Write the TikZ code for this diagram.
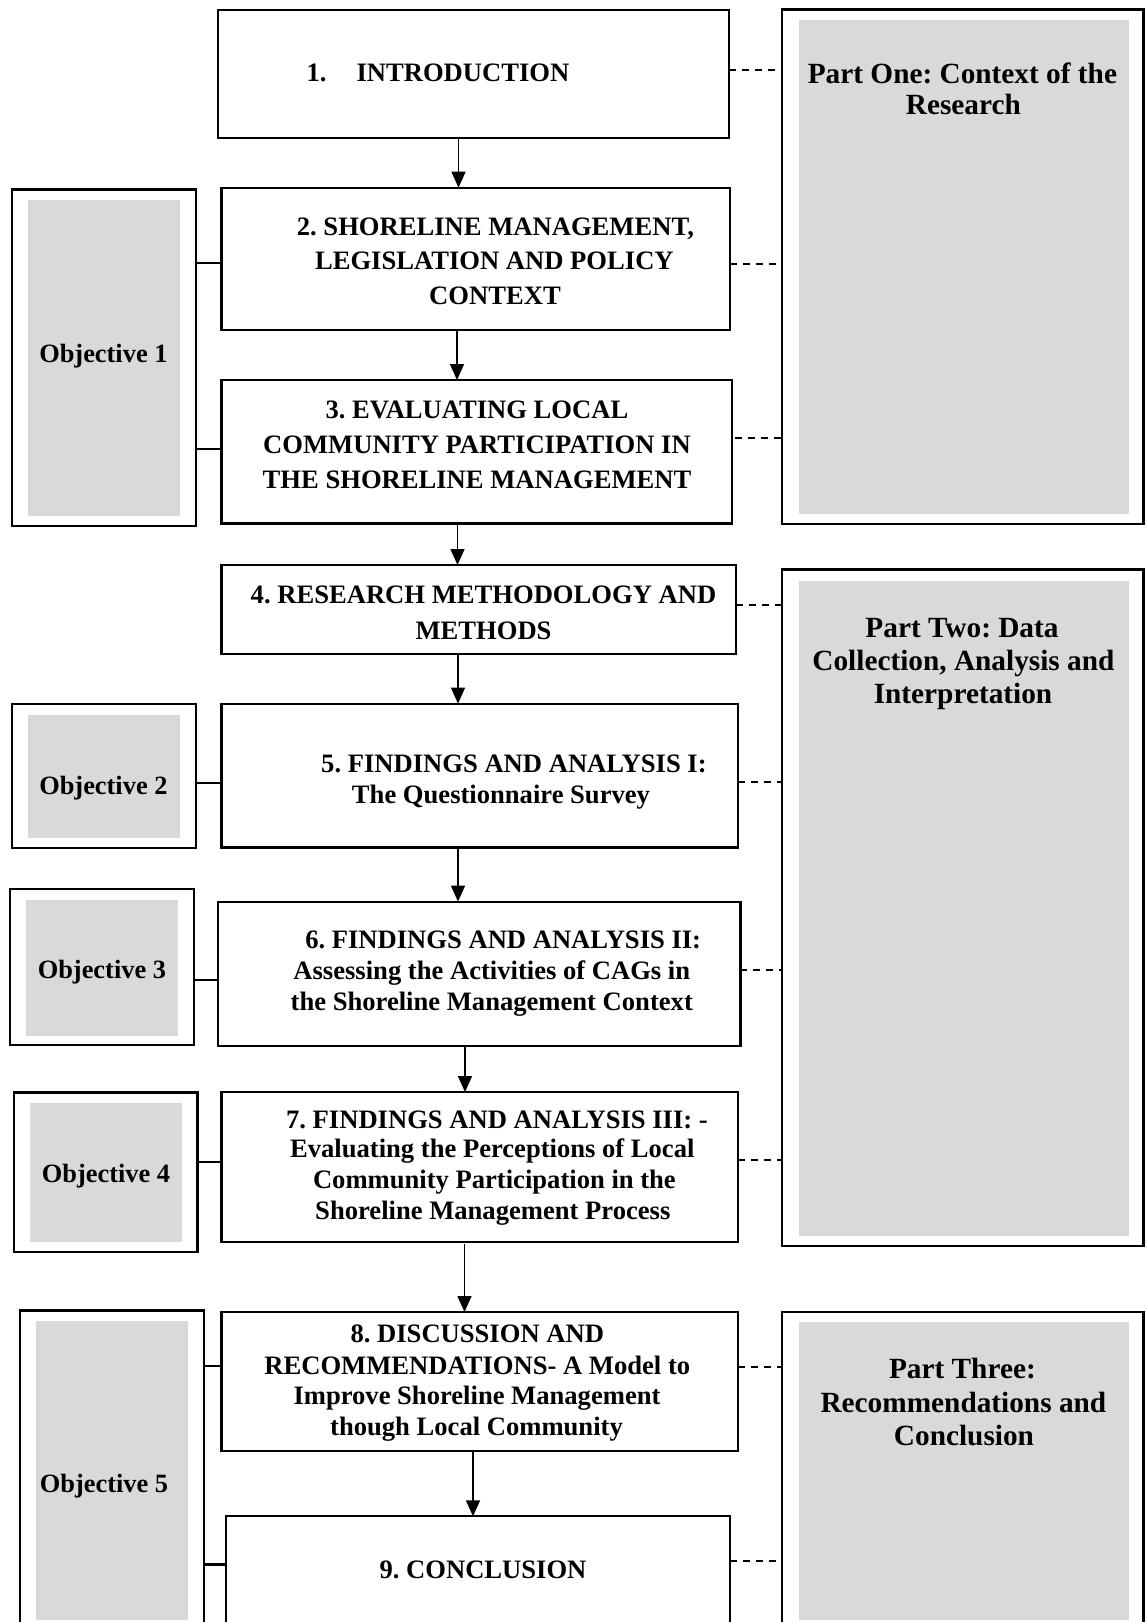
\documentclass[tikz,border=0pt]{standalone}
\usepackage{fontspec}
\setmainfont{Liberation Serif}
\usetikzlibrary{arrows.meta,fit}
\definecolor{panelgray}{HTML}{D9D9D9}
\frenchspacing
\newcommand\boxfont{\fontsize{26.6}{30}\selectfont\bfseries}
\newcommand\partfont{\fontsize{29.3}{33}\selectfont\bfseries}
\newcommand\objfont{\fontsize{26.4}{30}\selectfont\bfseries}
\begin{document}
\begin{tikzpicture}[x=1pt,y=-1pt,
  flow/.style={draw, line width=2.2pt, fill=white, inner sep=0pt, outer sep=0pt},
  frame/.style={draw, line width=2.2pt, inner sep=0pt, outer sep=0pt},
  shade/.style={fill=panelgray, draw=none, inner sep=0pt, outer sep=0pt},
  arr/.style={-{Triangle[length=16pt,width=14pt]}, line width=1.5pt},
  link/.style={line width=2.4pt},
  dotlink/.style={line width=2pt, dash pattern=on 7pt off 6pt},
  boxtext/.style={anchor=base, font=\boxfont, inner sep=0pt},
  parttext/.style={anchor=base, font=\partfont, inner sep=0pt},
  objtext/.style={anchor=base, font=\objfont, inner sep=0pt}]
\useasboundingbox (0,0) rectangle (1146,1622);

% chapter boxes
\node[flow, fit={(217.8,9.6) (728.7,137.8)}] (b1) {};
\node[flow, fit={(221.5,187.7) (730,329.6)}] (b2) {};
\node[flow, fit={(221.5,380) (732,523.5)}] (b3) {};
\node[flow, fit={(221.5,565) (736,653.7)}] (b4) {};
\node[flow, fit={(221.5,703.6) (738,847.5)}] (b5) {};
\node[flow, fit={(217.8,901.6) (740.4,1045.6)}] (b6) {};
\node[flow, fit={(221.5,1092) (738,1241.8)}] (b7) {};
\node[flow, fit={(221.5,1312) (738,1450.6)}] (b8) {};
\node[flow, fit={(226,1516.3) (730,1645)}] (b9) {};

% objective panels
\node[frame, fit={(11.7,189.4) (196,526)}] (o1) {};
\node[shade, fit={(27.8,200) (180,515.6)}] (o1in) {};
\node[frame, fit={(11.7,703.6) (196,848)}] (o2) {};
\node[shade, fit={(27.8,715) (180,837.5)}] (o2in) {};
\node[frame, fit={(9.8,889.3) (194,1045)}] (o3) {};
\node[shade, fit={(26.1,900) (178.1,1035.6)}] (o3in) {};
\node[frame, fit={(14.2,1092.5) (197.4,1252.3)}] (o4) {};
\node[shade, fit={(30,1103) (182,1241.5)}] (o4in) {};
\node[frame, fit={(20,1310.5) (204,1645)}] (o5) {};
\node[shade, fit={(35.8,1321) (187.8,1620.3)}] (o5in) {};

% part panels
\node[frame, fit={(782,9.5) (1143.5,524.3)}] (p1) {};
\node[shade, fit={(798.8,19.8) (1128.8,514)}] (p1in) {};
\node[frame, fit={(782,569.5) (1143.5,1245.6)}] (p2) {};
\node[shade, fit={(798.8,580.8) (1128.8,1236)}] (p2in) {};
\node[frame, fit={(782,1311.7) (1143.5,1645)}] (p3) {};
\node[shade, fit={(798.8,1322) (1128.8,1619.8)}] (p3in) {};

% chapter texts
\node[boxtext] (t1) at (438,81.2) {1.\hspace{30pt}INTRODUCTION};
\node[boxtext] (t2a) at (495.4,235.8) {2. SHORELINE MANAGEMENT,};
\node[boxtext] (t2b) at (494.4,269.8) {LEGISLATION AND POLICY};
\node[boxtext] (t2c) at (495,304.3) {CONTEXT};
\node[boxtext] (t3a) at (477,418.6) {3. EVALUATING LOCAL};
\node[boxtext] (t3b) at (477,453.1) {COMMUNITY PARTICIPATION IN};
\node[boxtext] (t3c) at (477,488.2) {THE SHORELINE MANAGEMENT};
\node[boxtext] (t4a) at (483.5,603.8) {4. RESEARCH METHODOLOGY AND};
\node[boxtext] (t4b) at (483.5,639.8) {METHODS};
\node[boxtext] (t5a) at (514,772.7) {5. FINDINGS AND ANALYSIS I:};
\node[boxtext] (t5b) at (501,803.7) {The Questionnaire Survey};
\node[boxtext] (t6a) at (503.2,948.3) {6. FINDINGS AND ANALYSIS II:};
\node[boxtext] (t6b) at (491.8,979.3) {Assessing the Activities of CAGs in};
\node[boxtext] (t6c) at (491.8,1010.3) {the Shoreline Management Context};
\node[boxtext] (t7a) at (497,1128.6) {7. FINDINGS AND ANALYSIS III: -};
\node[boxtext] (t7b) at (492.3,1157.8) {Evaluating the Perceptions of Local};
\node[boxtext] (t7c) at (494.4,1188.8) {Community Participation in the};
\node[boxtext] (t7d) at (492.8,1219.5) {Shoreline Management Process};
\node[boxtext] (t8a) at (477.3,1342.8) {8. DISCUSSION AND};
\node[boxtext] (t8b) at (477.3,1374.8) {RECOMMENDATIONS- A Model to};
\node[boxtext] (t8c) at (477,1404.8) {Improve Shoreline Management};
\node[boxtext] (t8d) at (476.5,1435.8) {though Local Community};
\node[boxtext] (t9) at (483,1578.8) {9. CONCLUSION};

% part texts
\node[parttext] (q1a) at (962.4,83.7) {Part One: Context of the};
\node[parttext] (q1b) at (963.4,114.7) {Research};
\node[parttext] (q2a) at (962,637.5) {Part Two: Data};
\node[parttext] (q2b) at (963.4,670.2) {Collection, Analysis and};
\node[parttext] (q2c) at (963,703) {Interpretation};
\node[parttext] (q3a) at (962.4,1378.3) {Part Three:};
\node[parttext] (q3b) at (963.4,1412.7) {Recommendations and};
\node[parttext] (q3c) at (964,1445.7) {Conclusion};

% objective texts
\node[objtext] (j1) at (103.4,362.7) {Objective 1};
\node[objtext] (j2) at (103.4,794.7) {Objective 2};
\node[objtext] (j3) at (101.9,978.7) {Objective 3};
\node[objtext] (j4) at (106,1182.7) {Objective 4};
\node[objtext] (j5) at (104,1492.7) {Objective 5};

% flow arrows
\draw[arr] (b1.south -| 458.5,0) -- (b2.north -| 458.5,0);
\draw[arr] (b2.south -| 457,0) -- (b3.north -| 457,0);
\draw[arr] (b3.south -| 457.5,0) -- (b4.north -| 457.5,0);
\draw[arr] (b4.south -| 458,0) -- (b5.north -| 458,0);
\draw[arr] (b5.south -| 458,0) -- (b6.north -| 458,0);
\draw[arr] (b6.south -| 465,0) -- (b7.north -| 465,0);
\draw[arr] ([yshift=-2.5pt]b7.south -| 464.5,0) -- (b8.north -| 464.5,0);
\draw[arr] (b8.south -| 473,0) -- (b9.north -| 473,0);

% objective links
\draw[link] (o1.east |- 0,263) -- (b2.west |- 0,263);
\draw[link] (o1.east |- 0,449) -- (b3.west |- 0,449);
\draw[link] (o2.east |- 0,783) -- (b5.west |- 0,783);
\draw[link] (o3.east |- 0,979.8) -- (b6.west |- 0,979.8);
\draw[link] (o4.east |- 0,1161.8) -- (b7.west |- 0,1161.8);
\draw[link] (o5.east |- 0,1365.8) -- (b8.west |- 0,1365.8);
\draw[link] (o5.east |- 0,1564.5) -- (b9.west |- 0,1564.5);

% part links
\draw[dotlink] (b1.east |- 0,69.5) -- (p1.west |- 0,69.5);
\draw[dotlink] (b2.east |- 0,263.8) -- (p1.west |- 0,263.8);
\draw[dotlink, dash phase=-3pt] (b3.east |- 0,437.5) -- (p1.west |- 0,437.5);
\draw[dotlink] (b4.east |- 0,605.2) -- (p2.west |- 0,605.2);
\draw[dotlink] (b5.east |- 0,782) -- (p2.west |- 0,782);
\draw[dotlink] (b6.east |- 0,970) -- (p2.west |- 0,970);
\draw[dotlink] (b7.east |- 0,1159.8) -- (p2.west |- 0,1159.8);
\draw[dotlink] (b8.east |- 0,1367.3) -- (p3.west |- 0,1367.3);
\draw[dotlink] (b9.east |- 0,1561) -- (p3.west |- 0,1561);
\end{tikzpicture}
\end{document}
